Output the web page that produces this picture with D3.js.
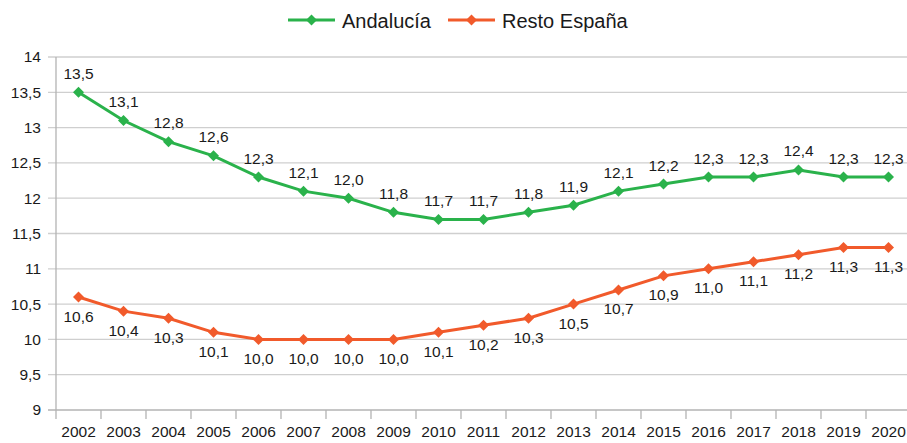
<!DOCTYPE html>
<html>
<head>
<meta charset="utf-8">
<script src="https://cdn.jsdelivr.net/npm/d3@7"></script>
<style>
  body { margin: 0; background: #fff; }
  svg { font-family: "Liberation Sans", Arial, sans-serif; display: block; }
</style>
</head>
<body>
<div id="chart"></div>
<script>
// data
var years = ["2002","2003","2004","2005","2006","2007","2008","2009","2010","2011",
  "2012","2013","2014","2015","2016","2017","2018","2019","2020"];
var andalucia = [13.5,13.1,12.8,12.6,12.3,12.1,12.0,11.8,11.7,11.7,11.8,11.9,12.1,12.2,12.3,12.3,12.4,12.3,12.3];
var restoEspana = [10.6,10.4,10.3,10.1,10.0,10.0,10.0,10.0,10.1,10.2,10.3,10.5,10.7,10.9,11.0,11.1,11.2,11.3,11.3];
var yTicks = [9,9.5,10,10.5,11,11.5,12,12.5,13,13.5,14];

var green = "#2ab24b", orange = "#f15a2b";

var W = 907, H = 443;
var margin = { top: 57, left: 56 },
  width = 855,
  height = 353;

var svg = d3.select("#chart").append("svg")
  .attr("width", W).attr("height", H);

var g = svg.append("g")
  .attr("transform", "translate(" + margin.left + "," + margin.top + ")");

var x = d3.scaleBand().domain(years).range([0, width]).padding(0);
var y = d3.scaleLinear().domain([9, 14]).range([height, 0]);
var fmt = function (v) { return v.toFixed(1).replace(".", ","); };

// gridlines (they stick out left of the axis as ticks)
g.append("g")
  .selectAll("line")
  .data(yTicks)
  .enter().append("line")
  .attr("x1", -8).attr("x2", width)
  .attr("y1", function (d) { return y(d); })
  .attr("y2", function (d) { return y(d); })
  .attr("stroke", function (d) { return d === 9 ? "#b3b3b3" : "#cfcfcf"; })
  .attr("stroke-width", 1.3);

// y labels
g.append("g")
  .call(d3.axisLeft(y).tickValues(yTicks).tickSize(0).tickPadding(15)
    .tickFormat(function (d) { return String(d).replace(".", ","); }))
  .call(function (a) { a.select(".domain").remove(); })
  .selectAll("text")
  .style("font-size", "15.5px")
  .attr("fill", "#1a1a1a");

// y axis line
g.append("line")
  .attr("x1", 0).attr("x2", 0).attr("y1", 0).attr("y2", height + 9)
  .attr("stroke", "#b3b3b3").attr("stroke-width", 1.3);

// x boundary ticks
g.append("g")
  .selectAll("line")
  .data(years.slice(1))
  .enter().append("line")
  .attr("x1", function (d) { return x(d); })
  .attr("x2", function (d) { return x(d); })
  .attr("y1", height).attr("y2", height + 9)
  .attr("stroke", "#b3b3b3").attr("stroke-width", 1.3);

// x labels
g.append("g")
  .attr("transform", "translate(0," + height + ")")
  .call(d3.axisBottom(x).tickSize(0).tickPadding(16))
  .call(function (a) { a.select(".domain").remove(); })
  .selectAll("text")
  .style("font-size", "15.5px")
  .attr("fill", "#1a1a1a");

var cx = function (d, i) { return x(years[i]) + x.bandwidth() / 2; };
var diamond = "M0,-5.5L5.5,0L0,5.5L-5.5,0Z";

function drawSeries(values, color, above) {
  var line = d3.line()
    .x(function (d, i) { return cx(d, i); })
    .y(function (d) { return y(d); });
  g.append("path")
    .datum(values)
    .attr("fill", "none")
    .attr("stroke", color)
    .attr("stroke-width", 3)
    .attr("d", line);
  g.append("g").selectAll("path")
    .data(values)
    .enter().append("path")
    .attr("d", diamond)
    .attr("transform", function (d, i) { return "translate(" + cx(d, i) + "," + y(d) + ")"; })
    .attr("fill", color);
  g.append("g").selectAll("text")
    .data(values)
    .enter().append("text")
    .attr("x", function (d, i) { return cx(d, i); })
    .attr("y", function (d) { return y(d) + (above ? -13.5 : 24.5); })
    .attr("text-anchor", "middle")
    .style("font-size", "15.5px")
    .attr("fill", "#1a1a1a")
    .text(fmt);
}

drawSeries(andalucia, green, true);
drawSeries(restoEspana, orange, false);

// legend
var legend = [
  { name: "Andalucía", color: green, x: 288 },
  { name: "Resto España", color: orange, x: 448 }
];
var lg = svg.append("g").selectAll("g")
  .data(legend)
  .enter().append("g")
  .attr("transform", function (d) { return "translate(" + d.x + ",20)"; });
lg.append("line")
  .attr("x1", 0).attr("x2", 47)
  .attr("stroke", function (d) { return d.color; })
  .attr("stroke-width", 3);
lg.append("path")
  .attr("d", diamond)
  .attr("transform", "translate(23.5,0)")
  .attr("fill", function (d) { return d.color; });
lg.append("text")
  .attr("x", 54).attr("y", 7.5)
  .style("font-size", "20px")
  .attr("fill", "#1a1a1a")
  .text(function (d) { return d.name; });
</script>
</body>
</html>
